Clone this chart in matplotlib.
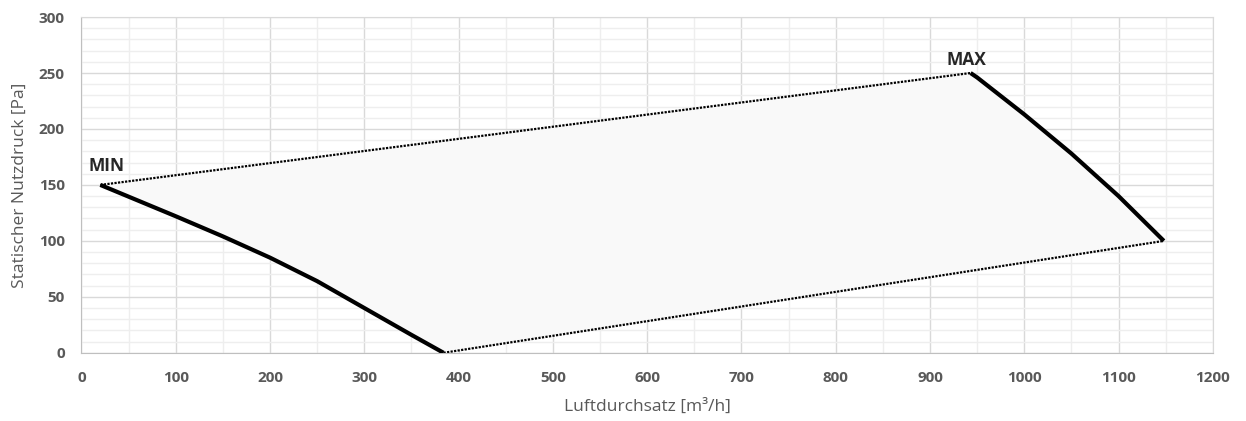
import matplotlib
matplotlib.use("Agg")
import matplotlib.pyplot as plt
from matplotlib.ticker import MultipleLocator

# Kennlinie links (MIN) und rechts (MAX)
min_x = [20, 100, 150, 200, 250, 300, 350, 384]
min_y = [150, 122, 104, 85, 64, 40, 16, 0]
max_x = [943, 950, 1000, 1050, 1100, 1148]
max_y = [250, 246, 213, 178, 140, 100]

x_ticks = list(range(0, 1201, 100))
y_ticks = list(range(0, 301, 50))

plt.rcParams["font.family"] = ["Open Sans", "DejaVu Sans"]

fig = plt.figure(figsize=(12.46, 4.21), dpi=100)
ax = fig.add_axes([0.0654, 0.162, 0.908, 0.7975])

# Arbeitsbereich
poly_x = min_x[::-1] + max_x
poly_y = min_y[::-1] + max_y
ax.fill(poly_x, poly_y, color="#f9f9f9", zorder=1, lw=0)

ax.plot(min_x, min_y, color="black", lw=3, zorder=3, solid_capstyle="butt", solid_joinstyle="round")
ax.plot(max_x, max_y, color="black", lw=3, zorder=3, solid_capstyle="butt", solid_joinstyle="round")
ax.plot([min_x[0], max_x[0]], [min_y[0], max_y[0]], color="black", lw=1.6, ls=(0, (1, 0.6)), zorder=2)
ax.plot([min_x[-1], max_x[-1]], [min_y[-1], max_y[-1]], color="black", lw=1.6, ls=(0, (1, 0.6)), zorder=2)

ax.text(7, 162, "MIN", fontsize=12.5, fontweight="bold", color="#262626", va="baseline", ha="left")
ax.text(918, 257.5, "MAX", fontsize=12.5, fontweight="bold", color="#262626", va="baseline", ha="left")

ax.set_xlim(0, 1200)
ax.set_ylim(0, 300)
ax.set_xticks(x_ticks)
ax.set_yticks(y_ticks)
ax.xaxis.set_minor_locator(MultipleLocator(50))
ax.yaxis.set_minor_locator(MultipleLocator(10))
ax.grid(which="major", color="#d9d9d9", lw=1.0, zorder=0)
ax.grid(which="minor", color="#eeeeee", lw=1.0, zorder=0)
ax.set_axisbelow(True)
ax.tick_params(which="both", length=0)
ax.tick_params(axis="both", labelsize=11, labelcolor="#595959")
ax.tick_params(axis="x", pad=13)
ax.tick_params(axis="y", pad=12)
for lbl in ax.get_xticklabels() + ax.get_yticklabels():
    lbl.set_fontweight("bold")

for s in ["top", "right"]:
    ax.spines[s].set_color("#d9d9d9")
for s in ["left", "bottom"]:
    ax.spines[s].set_color("#bfbfbf")

ax.set_xlabel("Luftdurchsatz [m³/h]", fontsize=12.5, color="#595959", labelpad=10)
ax.set_ylabel("Statischer Nutzdruck [Pa]", fontsize=12.5, color="#595959", labelpad=8)

fig.savefig("out.png", dpi=100)
